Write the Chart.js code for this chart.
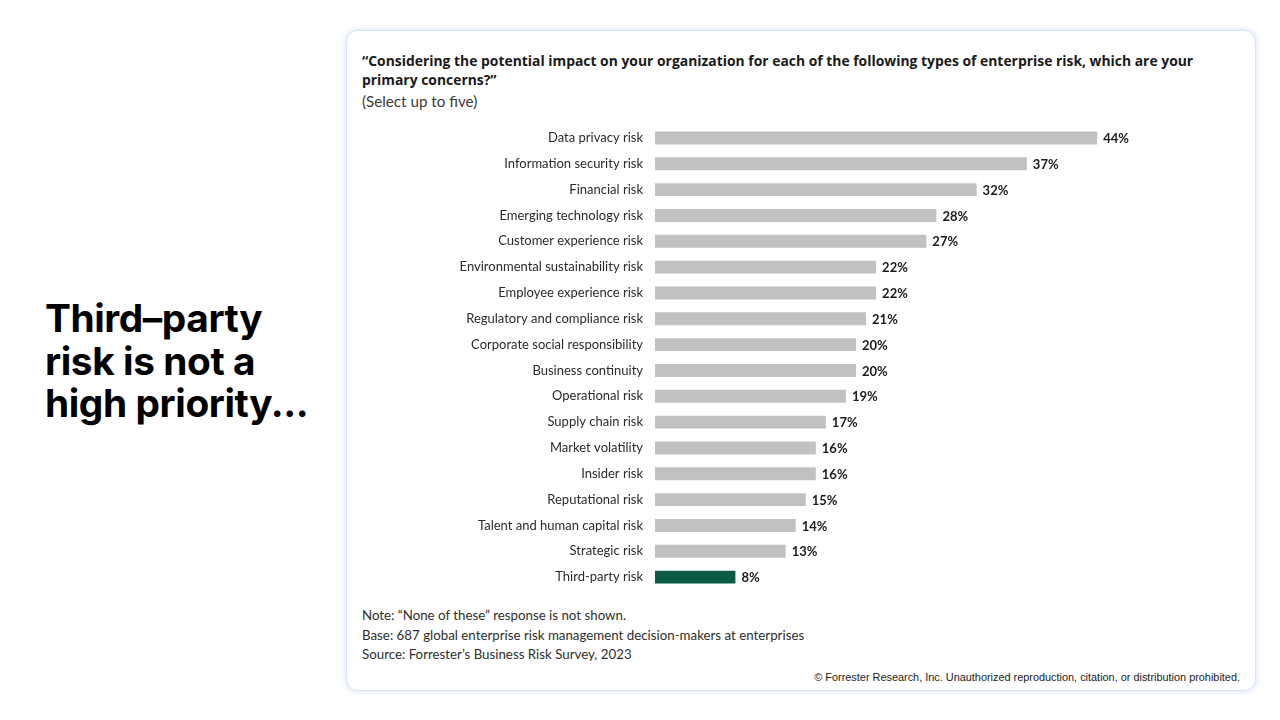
<!DOCTYPE html>
<html>
<head>
<meta charset="utf-8">
<script src="https://cdn.jsdelivr.net/npm/chart.js@4"></script>
<style>
  html, body { margin:0; padding:0; background:#fff; }
  body { width:1280px; height:720px; position:relative; overflow:hidden; font-family:"Lato", "Liberation Sans", sans-serif; }
  .headline { position:absolute; left:45px; top:297px; font-family:"Inter", sans-serif; font-weight:700; font-size:38.8px; line-height:42.5px; color:#000; letter-spacing:-0.4px; }
  .card { position:absolute; left:346px; top:30px; width:908px; height:659px; border-radius:12px; border:1px solid #d6e2fb; box-shadow:0 0 4px 2px #e6edfd; background:#fff; }
  .title { position:absolute; left:362px; top:51px; width:880px; font-family:"Open Sans", sans-serif; font-size:13.9px; font-weight:700; line-height:19px; color:#1a1a1a; }
  .sub { position:absolute; left:362px; top:92px; font-size:15.2px; color:#3a3a3a; }
  .notes { position:absolute; left:362px; top:606px; font-size:13.3px; line-height:19.5px; color:#2e2e2e; }
  .copy { position:absolute; right:40px; top:671px; font-family:"Liberation Sans", Arial, sans-serif; font-size:10.9px; color:#222; }
  #c { position:absolute; left:346px; top:125px; }
</style>
</head>
<body>
<div class="headline">Third–party<br>risk is not a<br>high priority...</div>
<div class="card"></div>
<div class="title">“Considering the potential impact on your organization for each of the following types of enterprise risk, which are your primary concerns?”</div>
<div class="sub">(Select up to five)</div>
<div class="notes">Note: “None of these” response is not shown.<br>Base: 687 global enterprise risk management decision-makers at enterprises<br>Source: Forrester’s Business Risk Survey, 2023</div>
<div class="copy">© Forrester Research, Inc. Unauthorized reproduction, citation, or distribution prohibited.</div>
<canvas id="c" width="909" height="465"></canvas>
<script>
const categories = [
  "Data privacy risk",
  "Information security risk",
  "Financial risk",
  "Emerging technology risk",
  "Customer experience risk",
  "Environmental sustainability risk",
  "Employee experience risk",
  "Regulatory and compliance risk",
  "Corporate social responsibility",
  "Business continuity",
  "Operational risk",
  "Supply chain risk",
  "Market volatility",
  "Insider risk",
  "Reputational risk",
  "Talent and human capital risk",
  "Strategic risk",
  "Third-party risk"
];
const values = [44, 37, 32, 28, 27, 22, 22, 21, 20, 20, 19, 17, 16, 16, 15, 14, 13, 8];
const highlight = "Third-party risk";

const barColors = categories.map(c => c === highlight ? "#0b5a44" : "#c1c1c1");

const valueLabels = {
  id: "valueLabels",
  afterDatasetsDraw(chart) {
    const ctx = chart.ctx;
    const meta = chart.getDatasetMeta(0);
    ctx.save();
    ctx.font = "700 13px Lato, 'Liberation Sans', sans-serif";
    ctx.fillStyle = "#1a1a1a";
    ctx.textBaseline = "middle";
    ctx.textAlign = "left";
    meta.data.forEach((bar, i) => {
      ctx.fillText(values[i] + "%", bar.x + 6, bar.y + 1);
    });
    ctx.restore();
  }
};

new Chart(document.getElementById("c"), {
  type: "bar",
  data: {
    labels: categories,
    datasets: [{
      data: values,
      backgroundColor: barColors,
      borderWidth: 0,
      barPercentage: 0.5,
      categoryPercentage: 1.0
    }]
  },
  options: {
    indexAxis: "y",
    responsive: false,
    animation: false,
    layout: { padding: { left: 0, right: 97.5, top: 0, bottom: 0 } },
    plugins: { legend: { display: false }, tooltip: { enabled: false } },
    scales: {
      x: { display: false, min: 0, max: 50 },
      y: {
        grid: { display: false, drawTicks: false },
        border: { display: false },
        ticks: { color: "#2a2a2a", font: { family: "Lato, 'Liberation Sans', sans-serif", size: 13 }, padding: 12 },
        afterFit(scale) { scale.width = 309; scale.paddingTop = 0; scale.paddingBottom = 0; }
      }
    }
  },
  plugins: [valueLabels]
});
</script>
</body>
</html>
